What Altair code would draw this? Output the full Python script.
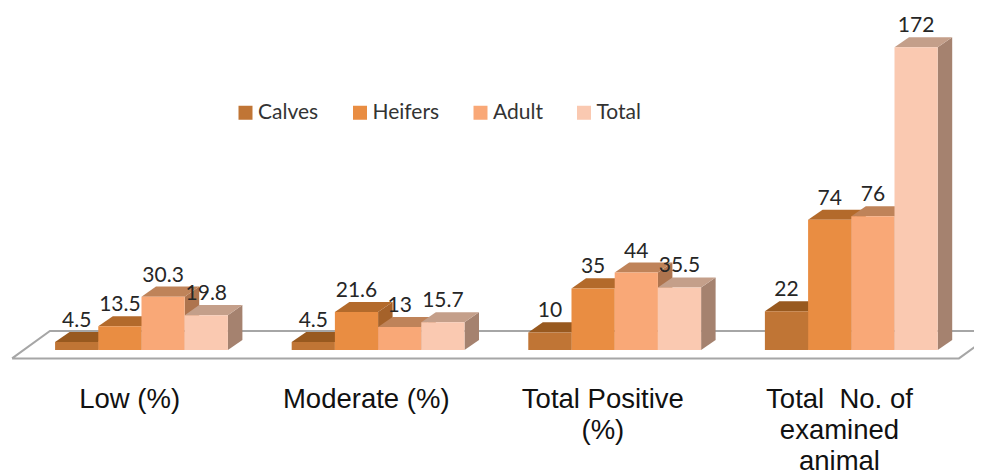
import altair as alt
import pandas as pd

categories = ["Low (%)", "Moderate (%)", "Total Positive\n(%)", "Total\u00a0 No. of\nexamined\nanimal"]
series = ["Calves", "Heifers", "Adult", "Total"]
calves = [4.5, 4.5, 10, 22]
heifers = [13.5, 21.6, 35, 74]
adult = [30.3, 13, 44, 76]
total = [19.8, 15.7, 35.5, 172]
values = [calves, heifers, adult, total]

front_colors = ["#C07535", "#E98D42", "#F9A877", "#FAC9B1"]
top_colors = ["#98591F", "#B36A2B", "#BF8359", "#C49F8A"]
side_colors = ["#8C5424", "#A5622A", "#AE744E", "#A5826F"]

W, H = 966, 468
X_DOMAIN = [-0.5642, 3.5186]
Y_DOMAIN = [-71.6, 194.3]
BAR = 0.1826
DX = 0.0613
DY = 5.7
LABEL_Y = -32.8
LABEL_SHIFT = -0.05

x_scale = alt.Scale(domain=X_DOMAIN, nice=False, zero=False)
y_scale = alt.Scale(domain=Y_DOMAIN, nice=False, zero=False)
X = lambda f: alt.X(f, type="quantitative", scale=x_scale, axis=None)
Y = lambda f: alt.Y(f, type="quantitative", scale=y_scale, axis=None)

fronts, tops, sides = [], [], []
for s, (name, vals) in enumerate(zip(series, values)):
    for c, v in enumerate(vals):
        x0 = c + (s - 2) * BAR
        x1 = x0 + BAR
        fronts.append(dict(series=name, cat=c, x0=x0, x1=x1, v=v, base=0, cx=(x0 + x1) / 2))
        tops += [dict(series=name, cat=c, a=x0, b=x1, y=v),
                 dict(series=name, cat=c, a=x0 + DX, b=x1 + DX, y=v + DY)]
        sides += [dict(series=name, cat=c, x=x1, u=v, l=0),
                  dict(series=name, cat=c, x=x1 + DX, u=v + DY, l=DY)]
fronts, tops, sides = map(pd.DataFrame, (fronts, tops, sides))

floor = pd.DataFrame({
    "x": [-0.547, -0.387, 3.616, 3.455, -0.547],
    "y": [-4.8, 10.8, 10.8, -4.8, -4.8],
    "o": [0, 1, 2, 3, 4],
})
floor_layer = alt.Chart(floor).mark_line(color="#A6A6A6", strokeWidth=2, strokeJoin="miter").encode(
    x=X("x"), y=Y("y"), order="o:Q")

layers = [floor_layer]
for s, name in enumerate(series):
    side = alt.Chart(sides[sides.series == name]).mark_area(color=side_colors[s], opacity=1).encode(
        x=X("x"), y=Y("u"), y2="l", detail="cat:N")
    top = alt.Chart(tops[tops.series == name]).mark_area(orient="horizontal", color=top_colors[s], opacity=1).encode(
        x=X("a"), x2="b", y=Y("y"), detail="cat:N")
    front = alt.Chart(fronts[fronts.series == name]).mark_rect().encode(
        x=X("x0"), x2="x1", y=Y("v"), y2="base",
        color=alt.Color("series:N",
                        scale=alt.Scale(domain=series, range=front_colors),
                        legend=alt.Legend(orient="none", legendX=227, legendY=94, direction="horizontal",
                                          columns=4, title=None, symbolType="square", symbolSize=196,
                                          symbolStrokeWidth=0, labelFont="Lato", labelFontSize=21,
                                          labelColor="#333333", labelOffset=2, columnPadding=30.5,
                                          gridAlign="each", padding=0)))
    layers += [side, top, front]

labels = alt.Chart(fronts).mark_text(font="Lato", fontSize=21, color="#262626", baseline="alphabetic", dy=-15).encode(
    x=X("cx"), y=Y("v"), text=alt.Text("v:Q", format="~g"))
layers.append(labels)

cat_df = pd.DataFrame({"c": categories, "x": [i + LABEL_SHIFT for i in range(4)], "y": [LABEL_Y] * 4})
cat_layer = alt.Chart(cat_df).mark_text(font="Liberation Sans", fontSize=27.5, color="#111111", baseline="alphabetic",
                                        lineBreak="\n", lineHeight=31).encode(
    x=X("x"), y=Y("y"), text="c:N")
layers.append(cat_layer)

chart = alt.layer(*layers).properties(
    width=W, height=H, padding=0,
    autosize=alt.AutoSizeParams(type="none"),
).configure_view(stroke=None)

chart.save("out.html", embed_options={"renderer": "svg", "actions": False})
